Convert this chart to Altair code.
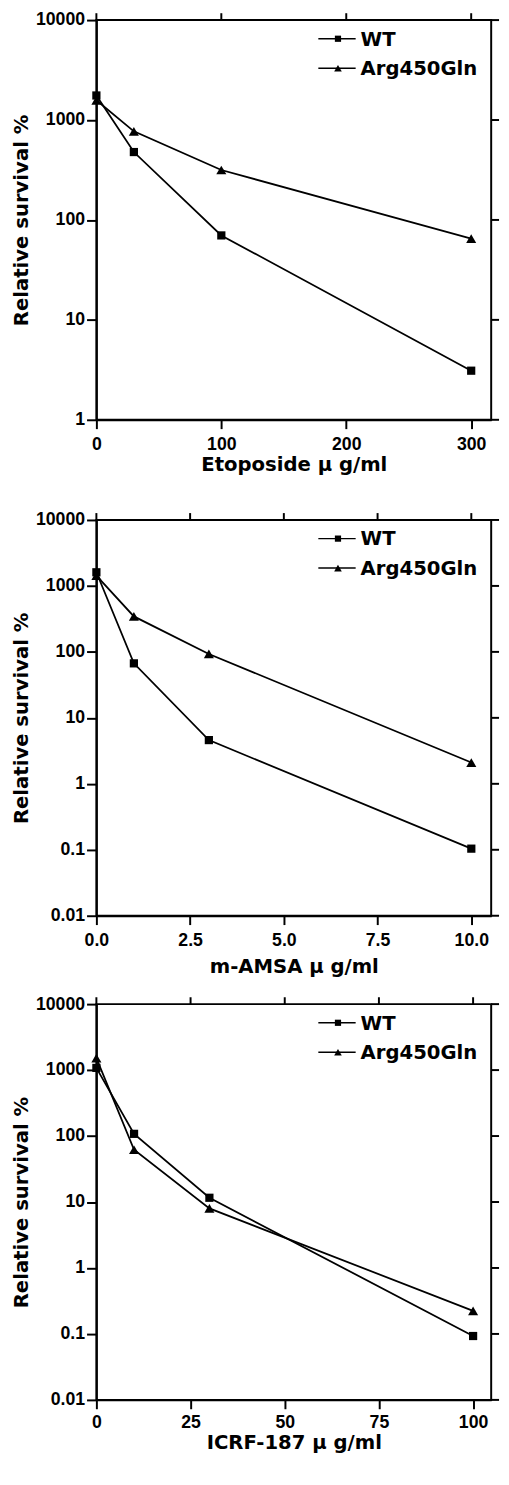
import altair as alt
import pandas as pd

series_names = ["WT", "Arg450Gln"]

eto_x = [0, 30, 100, 300]
eto_wt = [1760, 478, 70, 3.1]
eto_arg = [1575, 770, 316, 65]

amsa_x = [0, 1, 3, 10]
amsa_wt = [1610, 67, 4.6, 0.104]
amsa_arg = [1435, 345, 93, 2.1]

icrf_x = [0, 10, 30, 100]
icrf_wt = [1080, 108, 11.6, 0.093]
icrf_arg = [1515, 62, 8.0, 0.224]

eto_ticks = [0, 100, 200, 300]
amsa_ticks = [0, 2.5, 5.0, 7.5, 10.0]
icrf_ticks = [0, 25, 50, 75, 100]

y_ticks_1 = [1, 10, 100, 1000, 10000]
y_ticks_2 = [0.01, 0.1, 1, 10, 100, 1000, 10000]

TITLE_FONT = "DejaVu Sans"
LABEL_FONT = "Liberation Sans"
W = 402


def make_df(xs, wt, arg):
    rows = []
    for x, v in zip(xs, wt):
        rows.append({"x": x, "y": v, "series": "WT"})
    for x, v in zip(xs, arg):
        rows.append({"x": x, "y": v, "series": "Arg450Gln"})
    return pd.DataFrame(rows)


def panel(df, xdom, xticks, xfmt, ydom, yticks, xtitle, height, lab_pad, title_pad, extra_bottom=None):
    xs = alt.Scale(domain=xdom, nice=False, zero=False)
    ys = alt.Scale(type="log", domain=ydom, nice=False)
    xaxis = alt.Axis(values=xticks, format=xfmt, title=xtitle, tickSize=9, labelFlush=False,
                     labelPadding=lab_pad, titlePadding=title_pad)
    yaxis = alt.Axis(values=yticks, format="~g", title="Relative survival %", labelFlush=False,
                     tickSize=10, labelPadding=2, titlePadding=4)
    X = alt.X("x:Q", scale=xs, axis=xaxis)
    Y = alt.Y("y:Q", scale=ys, axis=yaxis)
    base = alt.Chart(df)
    lines = base.mark_line(color="black", strokeWidth=1.8).encode(x=X, y=Y, detail="series:N")
    pts = base.mark_point(filled=True, color="black", opacity=1).encode(
        x=X, y=Y,
        shape=alt.Shape("series:N", scale=alt.Scale(domain=series_names, range=["square", "triangle-up"]), legend=None),
        size=alt.Size("series:N", scale=alt.Scale(domain=series_names, range=[70, 105]), legend=None),
    )
    top_ticks = alt.Chart(pd.DataFrame({"x": xticks})).mark_rule(color="black", strokeWidth=2).encode(
        x=X, y=alt.value(0), y2=alt.value(-7))
    right_ticks = alt.Chart(pd.DataFrame({"y": yticks})).mark_rule(color="black", strokeWidth=2).encode(
        y=Y, x=alt.value(W), x2=alt.value(W + 8))
    one = pd.DataFrame({"k": [0]})
    lb = alt.Chart(one)
    leg = []
    for name, shape, ly, size in [("WT", "square", 19, 40), ("Arg450Gln", "triangle-up", 49, 60)]:
        leg.append(lb.mark_rule(color="black", strokeWidth=1.5).encode(
            x=alt.value(226), x2=alt.value(264), y=alt.value(ly)))
        leg.append(lb.mark_point(shape=shape, filled=True, color="black", opacity=1, size=size).encode(
            x=alt.value(246), y=alt.value(ly)))
        leg.append(lb.mark_text(align="left", baseline="middle", font=TITLE_FONT, fontWeight="bold",
                                fontSize=20, color="black").encode(
            x=alt.value(269), y=alt.value(ly + 1), text=alt.value(name)))
    if extra_bottom is not None:
        # invisible spacer that reserves room below the axis title
        leg.append(lb.mark_text(baseline="top", fontSize=20, opacity=0, color="white").encode(
            x=alt.value(W / 2), y=alt.value(height + extra_bottom), text=alt.value(".")))
    return alt.layer(lines, pts, top_ticks, right_ticks, *leg).properties(width=W, height=height)


p1 = panel(make_df(eto_x, eto_wt, eto_arg), [0, 316], eto_ticks, "d", [1, 10000], y_ticks_1,
           "Etoposide μ g/ml", 407, 7, 2, extra_bottom=54)
p2 = panel(make_df(amsa_x, amsa_wt, amsa_arg), [0, 10.53], amsa_ticks, ".1f", [0.01, 10000], y_ticks_2,
           "m-AMSA μ g/ml", 403, 7, 8)
p3 = panel(make_df(icrf_x, icrf_wt, icrf_arg), [0, 104.8], icrf_ticks, "d", [0.01, 10000], y_ticks_2,
           "ICRF-187 μ g/ml", 403, 5, 1)

chart = alt.vconcat(p1, p2, p3, spacing=17).properties(
    padding={"left": 2, "top": -11, "right": 0, "bottom": 0}
).configure(background="white").configure_view(stroke="black", strokeWidth=2).configure_axis(
    domainColor="black", domainWidth=2, tickColor="black", tickWidth=2, grid=False,
    labelFont=LABEL_FONT, labelFontWeight="bold", labelFontSize=18, labelColor="black",
    titleFont=TITLE_FONT, titleFontWeight="bold", titleFontSize=20, titleColor="black",
)

chart.save("out.html", embed_options={"renderer": "svg", "actions": False})
